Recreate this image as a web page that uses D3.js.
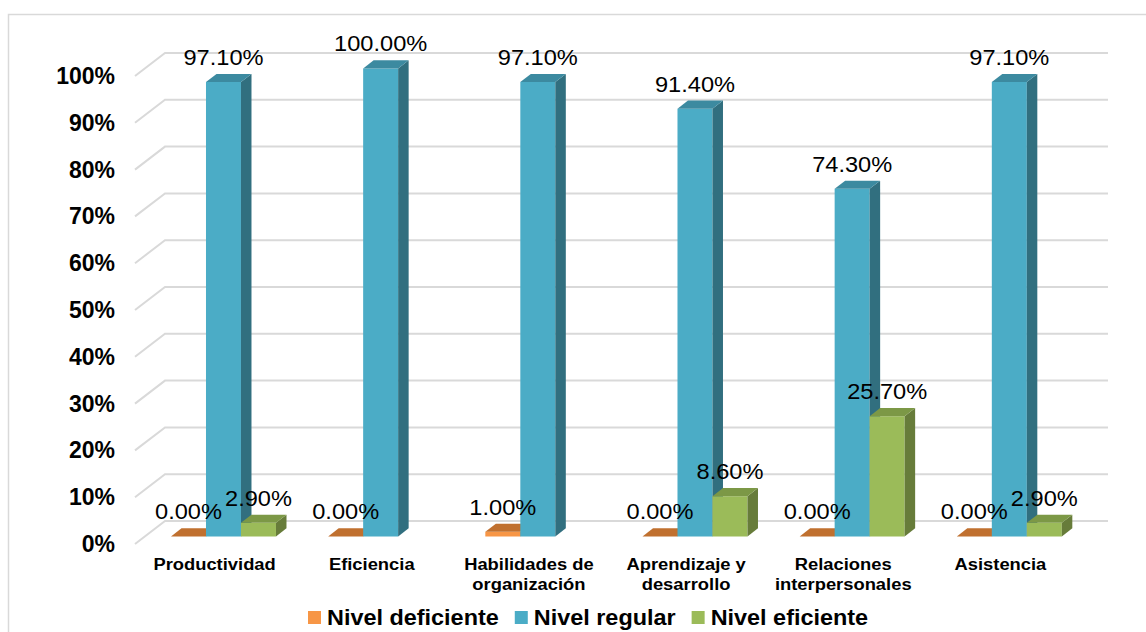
<!DOCTYPE html>
<html>
<head>
<meta charset="utf-8">
<script src="https://cdn.jsdelivr.net/npm/d3@7/dist/d3.min.js"></script>
<style>
  html, body { margin: 0; padding: 0; background: #ffffff; }
  svg { display: block; }
  text { font-family: "Liberation Sans", Arial, sans-serif; fill: #000; }
</style>
</head>
<body>
<svg id="chart" width="1146" height="632"></svg>
<script>
// Categories (with their two-line label breaks) and the three series, as fractions
const categories = ["Productividad", "Eficiencia", "Habilidades de organización",
                    "Aprendizaje y desarrollo", "Relaciones interpersonales", "Asistencia"];
const categoryLines = [["Productividad"], ["Eficiencia"], ["Habilidades de", "organización"],
                       ["Aprendizaje y", "desarrollo"], ["Relaciones", "interpersonales"], ["Asistencia"]];
const seriesNames = ["Nivel deficiente", "Nivel regular", "Nivel eficiente"];
const nivelDeficiente = [0.000, 0.000, 0.010, 0.000, 0.000, 0.000];
const nivelRegular    = [0.971, 1.000, 0.971, 0.914, 0.743, 0.971];
const nivelEficiente  = [0.029, null,  null,  0.086, 0.257, 0.029];
const yTicks = [0, 0.1, 0.2, 0.3, 0.4, 0.5, 0.6, 0.7, 0.8, 0.9, 1.0];

// Face colours per series: front, side, top
const palette = {
  "Nivel deficiente": { front: "#F79646", side: "#B5652A", top: "#C0702F" },
  "Nivel regular":    { front: "#4BACC6", side: "#316F7F", top: "#3C8AA0" },
  "Nivel eficiente":  { front: "#9BBB59", side: "#677C3A", top: "#7C9846" }
};
const seriesValues = [nivelDeficiente, nivelRegular, nivelEficiente];

const svg = d3.select("#chart");

// Chart frame
svg.append("rect")
  .attr("x", 8.5).attr("y", 14.5).attr("width", 1160).attr("height", 640)
  .attr("fill", "none").attr("stroke", "#D9D9D9").attr("stroke-width", 1.5);

// Oblique 3-D projection: depth d in [0,1] shifts right and up
const DX = 30, DY = 23;
const barDepthFront = 0.33, barDepthBack = 0.68;

const y = d3.scaleLinear().domain([0, 1]).range([544, 76]);
const x = d3.scaleBand().domain(categories).range([135, 1078])
  .paddingInner(0.332).paddingOuter(0.166);
const xSub = d3.scaleBand().domain(seriesNames).range([0, x.bandwidth()]);

const px = (xx, d) => xx + DX * d;
const py = (v, d) => y(v) - DY * d;

// Gridlines: floor-side diagonal plus back-wall line
const grid = svg.append("g");
yTicks.forEach(t => {
  grid.append("path")
    .attr("d", `M${px(135, 0)},${py(t, 0)} L${px(135, 1)},${py(t, 1)} L${px(1078, 1)},${py(t, 1)}`)
    .attr("fill", "none").attr("stroke", "#D9D9D9").attr("stroke-width", 2);
});

// Y axis labels
const yAxis = svg.append("g");
yTicks.forEach(t => {
  yAxis.append("text")
    .attr("x", 115).attr("y", y(t)).attr("dy", "0.35em")
    .attr("text-anchor", "end")
    .style("font-size", "23px").style("font-weight", "bold")
    .text(d3.format(".0%")(t));
});

// Bars
const bars = svg.append("g");
const poly = pts => "M" + pts.map(p => p.join(",")).join("L") + "Z";
const labels = [];
categories.forEach((cat, i) => {
  seriesNames.forEach((s, k) => {
    const v = seriesValues[k][i];
    if (v === null) return;
    const x0 = x(cat) + xSub(s), x1 = x0 + xSub.bandwidth();
    const c = palette[s];
    const d0 = barDepthFront, d1 = barDepthBack;
    // front face
    bars.append("path").attr("fill", c.front)
      .attr("d", poly([[px(x0, d0), py(0, d0)], [px(x1, d0), py(0, d0)],
                       [px(x1, d0), py(v, d0)], [px(x0, d0), py(v, d0)]]));
    // side face
    bars.append("path").attr("fill", c.side)
      .attr("d", poly([[px(x1, d0), py(0, d0)], [px(x1, d1), py(0, d1)],
                       [px(x1, d1), py(v, d1)], [px(x1, d0), py(v, d0)]]));
    // top face
    bars.append("path").attr("fill", c.top)
      .attr("d", poly([[px(x0, d0), py(v, d0)], [px(x1, d0), py(v, d0)],
                       [px(x1, d1), py(v, d1)], [px(x0, d1), py(v, d1)]]));
    labels.push({ x: px((x0 + x1) / 2, d0), y: py(v, d0) - 17, text: d3.format(".2%")(v) });
  });
});

// Value labels drawn over the bars
const lab = svg.append("g");
labels.forEach(l => {
  lab.append("text")
    .attr("transform", `translate(${l.x},${l.y}) scale(1.05,1)`)
    .attr("text-anchor", "middle")
    .style("font-size", "22.5px")
    .text(l.text);
});

// Category labels on the front edge
const cats = svg.append("g");
categories.forEach((cat, i) => {
  const cx = x(cat) + x.bandwidth() / 2 + 1;
  categoryLines[i].forEach((line, j) => {
    cats.append("text")
      .attr("transform", `translate(${cx},${570 + j * 20}) scale(1.08,1)`)
      .attr("text-anchor", "middle")
      .style("font-size", "17px").style("font-weight", "bold")
      .text(line);
  });
});

// Legend
const legend = svg.append("g");
let cursor = 308;
seriesNames.forEach(s => {
  legend.append("rect")
    .attr("x", cursor).attr("y", 611).attr("width", 13).attr("height", 13)
    .attr("fill", palette[s].front);
  const t = legend.append("text")
    .attr("transform", `translate(${cursor + 19},625) scale(1.09,1)`)
    .style("font-size", "21.5px").style("font-weight", "bold")
    .text(s);
  cursor += 19 + t.node().getComputedTextLength() * 1.09 + 16;
});
</script>
</body>
</html>
